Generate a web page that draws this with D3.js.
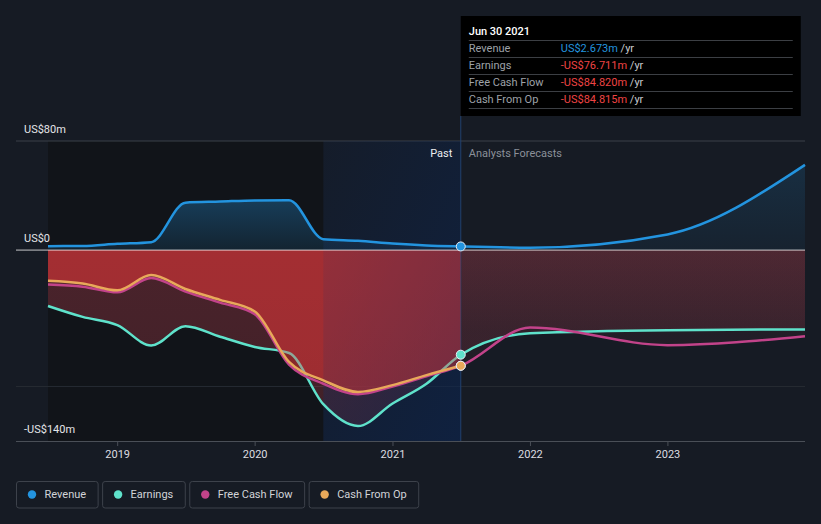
<!DOCTYPE html>
<html><head><meta charset="utf-8">
<script src="https://cdn.jsdelivr.net/npm/d3@7"></script>
<style>
html,body{margin:0;padding:0;background:#161b24;}
svg{display:block;font-family:Roboto,"Noto Sans",sans-serif;}
</style>
</head><body>
<svg id="c" width="821" height="524"></svg>
<script>
// ---------- data ----------
const dates = ["2018-06-30","2018-09-30","2018-12-31","2019-03-31","2019-06-30","2019-09-30","2019-12-31",
               "2020-03-31","2020-06-30","2020-09-30","2020-12-31","2021-03-31","2021-06-30",
               "2021-12-31","2022-12-31","2023-12-31"];
const lastActualIndex = 12;           // Jun 30 2021
const highlightStart = "2020-06-30";
const revenue  = [2.9, 3.0, 4.6, 5.8, 34.8, 35.6, 36.4, 36.5, 8.0, 6.8, 4.8, 3.4, 2.673, 1.8, 11.5, 62.5];
const earnings = [-41, -49, -55, -70, -55.8, -63.5, -71, -75.5, -113, -129, -112.5, -98, -76.711, -61, -58.7, -58.2];
const freeCashFlow = [-25.2, -26.8, -31, -20.5, -30.5, -38.5, -47, -84, -98, -105.7, -100, -92.5, -84.82, -56.8, -69.7, -63.1];
const cashFromOp   = [-22.5, -24.5, -29.5, -18.3, -28.5, -36.5, -45, -82, -95.5, -104, -99, -91.7, -84.815];
const seriesNames  = ["Revenue","Earnings","Free Cash Flow","Cash From Op"];
const seriesColors = ["#2394df","#5fe2cb","#c2438a","#e8a95a"];
const yTickValues  = [80, 0, -140];
const yTickLabels  = ["US$80m","US$0","-US$140m"];
const xTickYears   = [2019, 2020, 2021, 2022, 2023];
const tooltipTitle = "Jun 30 2021";
const tooltipValues = ["US$2.673m","-US$76.711m","-US$84.820m","-US$84.815m"];
const tooltipValueColors = ["#2394df","#ef4444","#ef4444","#ef4444"];

// ---------- setup ----------
const W = 821, H = 524;
const parse = d3.timeParse("%Y-%m-%d");
const x = d3.scaleTime().domain([parse("2018-06-30"), parse("2023-12-31")]).range([48, 805]);
const y = d3.scaleLinear().domain([-140, 80]).range([441, 141]);
const svg = d3.select("#c");
const defs = svg.append("defs");
const pts = arr => arr.map((v, i) => ({d: parse(dates[i]), v}));

const splitX = x(parse(dates[lastActualIndex]));
const hiX = x(parse(highlightStart));
const x0 = x.range()[0], x1 = x.range()[1];
const yTop = y(80), yBot = y(-140), yZero = y(0);

svg.append("rect").attr("width", W).attr("height", H).attr("fill", "#161b24");
svg.append("rect").attr("x", x0).attr("y", yTop).attr("width", hiX - x0).attr("height", yBot - yTop).attr("fill", "#111419");

// clips
defs.append("clipPath").attr("id", "clipPast").append("rect").attr("x", 0).attr("y", 0).attr("width", splitX).attr("height", H);
defs.append("clipPath").attr("id", "clipFc").append("rect").attr("x", splitX).attr("y", 0).attr("width", W - splitX).attr("height", H);

// gradients
function vGrad(id, color, o1, o2, ya, yb) {
  const g = defs.append("linearGradient").attr("id", id).attr("gradientUnits", "userSpaceOnUse")
    .attr("x1", 0).attr("x2", 0).attr("y1", ya).attr("y2", yb);
  g.append("stop").attr("offset", 0).attr("stop-color", color).attr("stop-opacity", o1);
  g.append("stop").attr("offset", 1).attr("stop-color", color).attr("stop-opacity", o2);
}
vGrad("revPast", "#2394df", 0.34, 0.12, y(40), yZero);
vGrad("revFc", "#2394df", 0.17, 0.06, y(70), yZero);
vGrad("redE_past", "#c54352", 0.32, 0.26, yZero, yBot);
vGrad("redE_fc", "#c54352", 0.26, 0.14, yZero, y(-60));
vGrad("redF_past", "#c54352", 0.12, 0.08, yZero, yBot);
vGrad("redF_fc", "#c54352", 0.08, 0.05, yZero, yBot);

// grid
svg.append("line").attr("x1", 16).attr("x2", x1).attr("y1", yTop).attr("y2", yTop).attr("stroke", "#3b4048").attr("stroke-width", 1);
svg.append("line").attr("x1", 16).attr("x2", x1).attr("y1", y(-100)).attr("y2", y(-100)).attr("stroke", "#262b33").attr("stroke-width", 1);

const area = d3.area().x(p => x(p.d)).y0(yZero).y1(p => y(p.v)).curve(d3.curveMonotoneX);
const line = d3.line().x(p => x(p.d)).y(p => y(p.v)).curve(d3.curveMonotoneX);

// fills
[["clipPast","_past"],["clipFc","_fc"]].forEach(([clip, suf]) => {
  svg.append("path").attr("d", area(pts(earnings))).attr("fill", `url(#redE${suf})`).attr("clip-path", `url(#${clip})`);
  svg.append("path").attr("d", area(pts(freeCashFlow))).attr("fill", `url(#redF${suf})`).attr("clip-path", `url(#${clip})`);
});
svg.append("path").attr("d", area(pts(revenue))).attr("fill", "url(#revPast)").attr("clip-path", "url(#clipPast)");
svg.append("path").attr("d", area(pts(revenue))).attr("fill", "url(#revFc)").attr("clip-path", "url(#clipFc)");
svg.append("path").attr("d", area(pts(cashFromOp))).attr("fill", "#eb3737").attr("fill-opacity", 0.28);

// highlight overlay (last year)
const hg = defs.append("linearGradient").attr("id", "hiGrad").attr("x1", 0).attr("x2", 1).attr("y1", 0).attr("y2", 1);
hg.append("stop").attr("offset", 0).attr("stop-color", "#0b2552").attr("stop-opacity", 0.12);
hg.append("stop").attr("offset", 1).attr("stop-color", "#0b2552").attr("stop-opacity", 0.6);
svg.append("rect").attr("x", hiX).attr("y", yTop).attr("width", splitX - hiX).attr("height", yBot - yTop).attr("fill", "url(#hiGrad)");
svg.append("line").attr("x1", splitX).attr("x2", splitX).attr("y1", 116).attr("y2", yBot).attr("stroke", "#22406e").attr("stroke-width", 1);

// earnings line beneath light CFO fill
svg.append("path").attr("d", line(pts(earnings))).attr("fill", "none").attr("stroke", seriesColors[1]).attr("stroke-width", 2.5);
svg.append("path").attr("d", area(pts(cashFromOp))).attr("fill", "#eb3737").attr("fill-opacity", 0.33);

// zero line
svg.append("line").attr("x1", 16).attr("x2", x1).attr("y1", yZero).attr("y2", yZero).attr("stroke", "#ffffff").attr("stroke-opacity", 0.75).attr("stroke-width", 1);

svg.append("path").attr("d", line(pts(freeCashFlow))).attr("fill", "none").attr("stroke", seriesColors[2]).attr("stroke-width", 2.5);
svg.append("path").attr("d", line(pts(cashFromOp))).attr("fill", "none").attr("stroke", seriesColors[3]).attr("stroke-width", 2.5);
svg.append("path").attr("d", line(pts(revenue))).attr("fill", "none").attr("stroke", seriesColors[0]).attr("stroke-width", 2.5);

// dots at last actual
const dotSeries = [[revenue, 0], [earnings, 1], [freeCashFlow, 2], [cashFromOp, 3]];
dotSeries.forEach(([arr, i]) => {
  svg.append("circle").attr("cx", splitX).attr("cy", y(arr[lastActualIndex])).attr("r", 4.5)
    .attr("fill", seriesColors[i]).attr("stroke", "#e8eef5").attr("stroke-width", 1);
});

// x axis
svg.append("line").attr("x1", 16).attr("x2", x1).attr("y1", yBot + 0.5).attr("y2", yBot + 0.5).attr("stroke", "#4a4f57");
const xg = svg.append("g");
xTickYears.forEach(yr => {
  const xx = x(new Date(yr, 0, 1));
  xg.append("line").attr("x1", xx).attr("x2", xx).attr("y1", yBot).attr("y2", yBot + 5).attr("stroke", "#4a4f57");
  xg.append("text").attr("x", xx).attr("y", 458).attr("text-anchor", "middle").attr("font-size", 11).attr("fill", "#dcdde0").text(yr);
});

// y labels
yTickValues.forEach((v, i) => {
  svg.append("text").attr("x", 24).attr("y", y(v) - 8.5).attr("font-size", 11).attr("fill", "#e4e5e8").text(yTickLabels[i]);
});

// past / forecast labels
svg.append("text").attr("x", splitX - 8.5).attr("y", 157).attr("text-anchor", "end").attr("font-size", 11).attr("fill", "#eceef0").text("Past");
svg.append("text").attr("x", splitX + 8).attr("y", 157).attr("font-size", 11).attr("fill", "#8b9099").text("Analysts Forecasts");

// tooltip
const tt = svg.append("g");
tt.append("rect").attr("x", splitX).attr("y", 16).attr("width", 340).attr("height", 100).attr("fill", "#000");
tt.append("text").attr("x", splitX + 8).attr("y", 35).attr("font-size", 11).attr("font-weight", 500).attr("fill", "#fff").text(tooltipTitle);
[40.5, 57.5, 74.5, 91.5, 108.5].forEach(yy => {
  tt.append("line").attr("x1", splitX + 8).attr("x2", splitX + 332).attr("y1", yy).attr("y2", yy).attr("stroke", "#3c3f44");
});
seriesNames.forEach((n, i) => {
  const by = 52 + i * 17;
  tt.append("text").attr("x", splitX + 8).attr("y", by).attr("font-size", 11).attr("fill", "#9ea2a8").text(n);
  const t = tt.append("text").attr("x", splitX + 100).attr("y", by).attr("font-size", 11);
  t.append("tspan").attr("fill", tooltipValueColors[i]).text(tooltipValues[i]);
  t.append("tspan").attr("fill", "#c9cbcf").text(" /yr");
});

// legend
const lg = svg.append("g");
let lx = 16.5;
seriesNames.forEach((n, i) => {
  const g = lg.append("g");
  const txt = g.append("text").attr("x", lx + 28).attr("y", 498).attr("font-size", 11).attr("fill", "#d2d4d8").text(n);
  const tw = txt.node().getComputedTextLength();
  const bw = 28 + tw + 12;
  g.insert("rect", "text").attr("x", lx).attr("y", 481.5).attr("width", bw).attr("height", 26.5).attr("rx", 2.5)
    .attr("fill", "none").attr("stroke", "#3d424b").attr("stroke-width", 1);
  g.append("circle").attr("cx", lx + 15.5).attr("cy", 494.5).attr("r", 4.2).attr("fill", seriesColors[i]);
  lx += bw + 4.5;
});
</script>
</body></html>
